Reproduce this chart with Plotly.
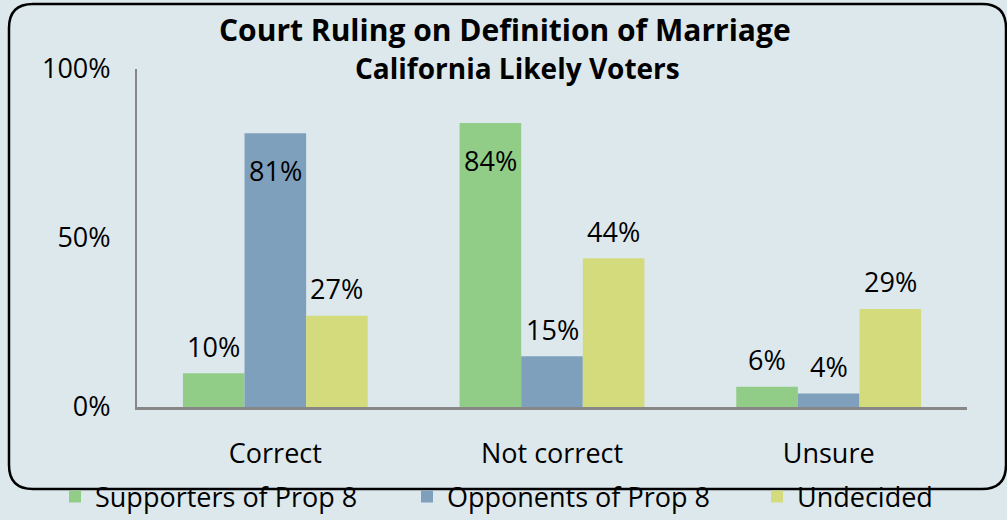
import plotly.graph_objects as go

# ---- data ----
categories = ["Correct", "Not correct", "Unsure"]
series_names = ["Supporters of Prop 8", "Opponents of Prop 8", "Undecided"]
supporters = [10, 84, 6]
opponents = [81, 15, 4]
undecided = [27, 44, 29]
y_tickvals = [0, 50, 100]
y_ticktext = ["0%", "50%", "100%"]
title_lines = ["Court Ruling on Definition of Marriage", "California Likely Voters"]

# ---- styling ----
colors = ["#92CD88", "#7FA0BD", "#D4DB7C"]
BG = "#DDE8ED"
FONT = "Open Sans"
FS = 27
W, H = 1007, 520
ML, MR, MT, MB = 137, 40, 69, 113
BARGAP = 0.332

pw = W - ML - MR
ph = H - MT - MB
def px(x):
    return (x - ML) / pw
def py(y):
    return (H - MB - y) / ph

legend_ids = ["legend", "legend2", "legend3"]
legend_left_px = [55, 407, 757]

fig = go.Figure()
all_series = [supporters, opponents, undecided]
for name, vals, col, lid in zip(series_names, all_series, colors, legend_ids):
    fig.add_trace(go.Bar(x=categories, y=vals, name=name, legend=lid,
                         marker=dict(color=col, line=dict(width=0)),
                         hoverinfo="skip"))

# data labels
barw = (1 - BARGAP) / len(all_series)
for j, vals in enumerate(all_series):
    for i, v in enumerate(vals):
        inside = v > 70
        fig.add_annotation(x=i + (j - 1) * barw, y=v, xref="x", yref="y",
                           text=f"{v}%", showarrow=False,
                           yshift=-37 if inside else 27,
                           font=dict(family=FONT, size=FS, color="black"))

# title
fig.add_annotation(x=px(505), y=py(30), xref="paper", yref="paper",
                   xanchor="center", yanchor="middle",
                   text="<b>" + title_lines[0] + "</b>", showarrow=False,
                   font=dict(family=FONT, size=30, color="black"))
fig.add_annotation(x=px(517), y=py(68), xref="paper", yref="paper",
                   xanchor="center", yanchor="middle",
                   text="<b>" + title_lines[1] + "</b>", showarrow=False,
                   font=dict(family=FONT, size=28, color="black"))

# rounded border
L, R, T, B, r = 9, 1006, 4, 489, 24
path = (f"M {px(L + r)},{py(T)} L {px(R - r)},{py(T)} "
        f"Q {px(R)},{py(T)} {px(R)},{py(T + r)} "
        f"L {px(R)},{py(B - r)} Q {px(R)},{py(B)} {px(R - r)},{py(B)} "
        f"L {px(L + r)},{py(B)} Q {px(L)},{py(B)} {px(L)},{py(B - r)} "
        f"L {px(L)},{py(T + r)} Q {px(L)},{py(T)} {px(L + r)},{py(T)} Z")
fig.add_shape(type="path", path=path, xref="paper", yref="paper",
              line=dict(color="black", width=2.5), layer="below")

legend_common = dict(orientation="h", xanchor="left", yanchor="middle",
                     y=py(497), font=dict(family=FONT, size=FS, color="black"),
                     bgcolor="rgba(0,0,0,0)", borderwidth=0)
layout_legends = {}
for lid, lx in zip(legend_ids, legend_left_px):
    layout_legends[lid] = dict(legend_common, x=px(lx))

fig.update_layout(
    width=W, height=H,
    margin=dict(l=ML, r=MR, t=MT, b=MB, autoexpand=False),
    paper_bgcolor=BG, plot_bgcolor=BG,
    barmode="group", bargap=BARGAP, bargroupgap=0,
    font=dict(family=FONT, size=FS, color="black"),
    showlegend=True,
    **layout_legends,
)
fig.update_yaxes(range=[0, 100], tickvals=y_tickvals, ticktext=y_ticktext,
                 showgrid=False, zeroline=False, showline=True,
                 linecolor="#878787", linewidth=2,
                 ticks="outside", ticklen=19, tickcolor="rgba(0,0,0,0)",
                 tickfont=dict(family=FONT, size=FS, color="black"),
                 fixedrange=True)
fig.update_xaxes(showgrid=False, showline=True, linecolor="#878787", linewidth=3,
                 ticks="outside", ticklen=21, tickcolor="rgba(0,0,0,0)",
                 tickfont=dict(family=FONT, size=FS, color="black"),
                 fixedrange=True)

fig.write_html("out.html", config={"displayModeBar": False},
               post_script="document.body.style.margin='0px';"
                           "document.body.style.background='" + BG + "';")
